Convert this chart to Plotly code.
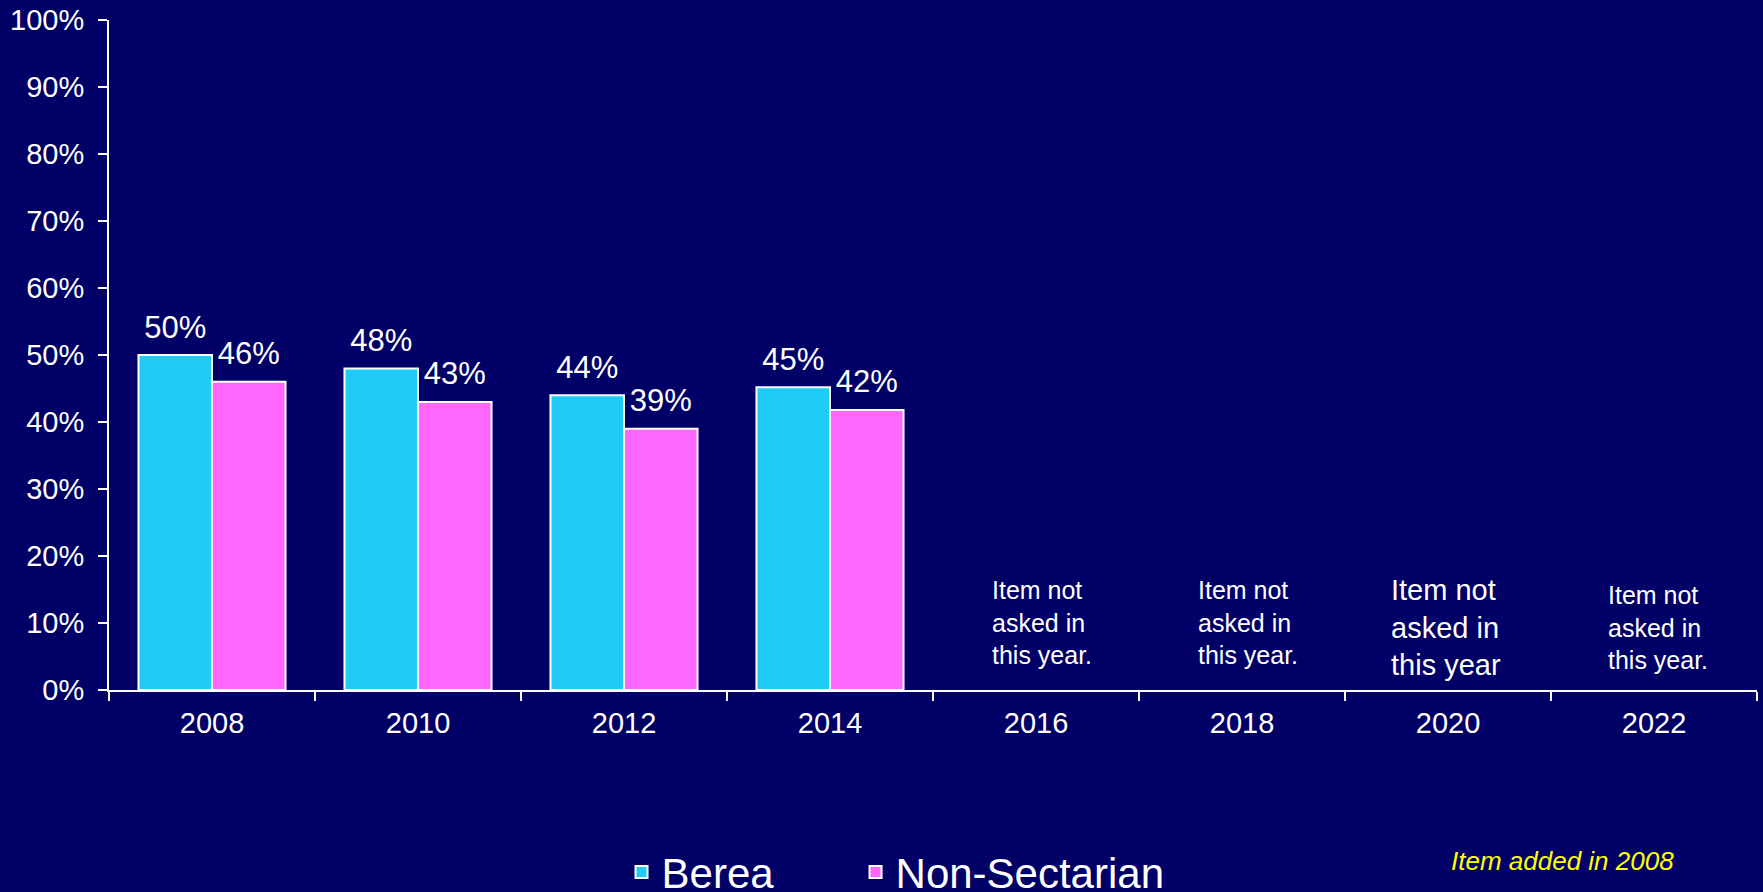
import plotly.graph_objects as go

years = ["2008", "2010", "2012", "2014", "2016", "2018", "2020", "2022"]
berea = [0.50, 0.48, 0.44, 0.452, None, None, None, None]
non_sectarian = [0.46, 0.43, 0.39, 0.418, None, None, None, None]

note_years = ["2016", "2018", "2020", "2022"]
note_texts = ["Item not<br>asked in<br>this year.",
              "Item not<br>asked in<br>this year.",
              "Item not<br>asked in<br>this year",
              "Item not<br>asked in<br>this year."]
note_y = [0.101, 0.101, 0.094, 0.094]
note_size = [25, 25, 29, 25]
note_shift = [6, 6, -2, 4]

FONT = "Arial, Liberation Sans, sans-serif"
BG = "#000066"
GAP = 0.286

series = [("Berea", berea, "#21CBF7", "legend", 0.311),
          ("Non-Sectarian", non_sectarian, "#FF66FF", "legend2", 0.453)]

fig = go.Figure()
for i, (name, vals, col, leg, lx) in enumerate(series):
    fig.add_trace(go.Bar(
        x=years, y=vals, name=name, legend=leg, offsetgroup=str(i),
        marker=dict(color=col, line=dict(color="white", width=2)),
    ))
for i, (name, vals, col, leg, lx) in enumerate(series):
    # value labels, grouped like the bars
    fig.add_trace(go.Scatter(
        x=years, y=vals, mode="text+markers", offsetgroup=str(i),
        marker=dict(size=14, opacity=0),
        text=[f"{v:.0%}" if v is not None else "" for v in vals],
        textposition="top center", showlegend=False, hoverinfo="skip",
        textfont=dict(color="white", size=31, family=FONT), cliponaxis=False,
    ))

# notes for years where the item was not asked (category index on x)
for yr, txt, yy, sz, sh in zip(note_years, note_texts, note_y, note_size, note_shift):
    fig.add_annotation(x=years.index(yr), y=yy, xref="x", yref="y", text=txt,
                       showarrow=False, align="left", xanchor="center",
                       yanchor="middle", xshift=sh,
                       font=dict(color="white", size=sz, family=FONT))

fig.add_annotation(x=0.882, y=-0.255, xref="paper", yref="paper",
                   text="<i>Item added in 2008</i>", showarrow=False,
                   xanchor="center", yanchor="middle",
                   font=dict(color="#FFFF00", size=26, family=FONT))

leg_style = dict(orientation="h", xanchor="left", y=-0.272, yanchor="middle",
                 font=dict(size=42, color="white", family=FONT),
                 bgcolor="rgba(0,0,0,0)")
fig.update_layout(
    width=1763, height=892,
    paper_bgcolor=BG, plot_bgcolor=BG,
    margin=dict(l=109, r=6, t=20, b=202, autoexpand=False),
    barmode="group", bargap=GAP, bargroupgap=0,
    scattermode="group", scattergap=GAP,
    font=dict(family=FONT, color="white"),
    showlegend=True,
    legend=dict(x=series[0][4], **leg_style),
    legend2=dict(x=series[1][4], **leg_style),
)
fig.update_xaxes(
    type="category", categoryorder="array", categoryarray=years,
    range=[-0.5, len(years) - 0.5],
    showline=True, linecolor="white", linewidth=2,
    ticks="outside", tickson="boundaries", ticklen=9, tickcolor="white",
    tickwidth=2, tickfont=dict(size=29, color="white"), tickangle=0,
    ticklabelstandoff=6, showgrid=False, zeroline=False,
)
fig.update_yaxes(
    range=[0, 1], dtick=0.1, tickformat=".0%",
    showline=True, linecolor="white", linewidth=2,
    ticks="outside", ticklen=9, tickcolor="white", tickwidth=2,
    tickfont=dict(size=29, color="white"), ticklabelstandoff=8,
    showgrid=False, zeroline=False,
)

fig.write_html("out.html", config={"displayModeBar": False},
               post_script="document.body.style.margin='0';")
